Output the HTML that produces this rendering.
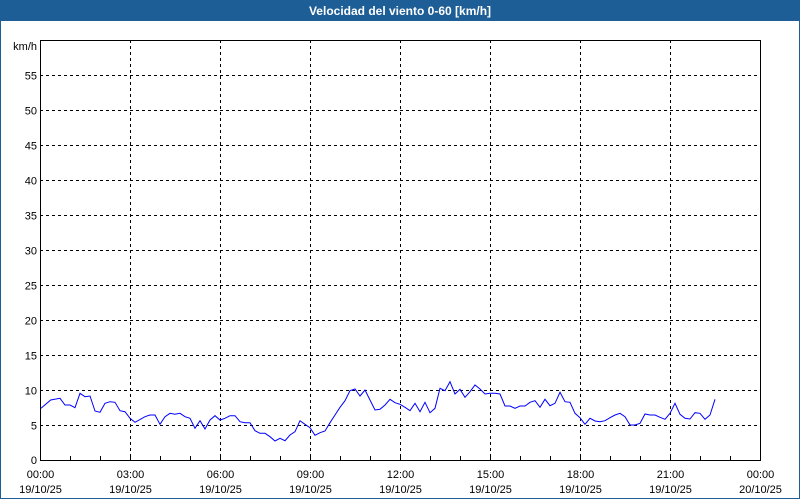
<!DOCTYPE html>
<html><head><style>
body{margin:0;background:#fff;}
svg{display:block;font-family:"Liberation Sans",sans-serif;}
</style></head><body>
<svg id="s" width="800" height="500" viewBox="0 0 800 500" xmlns="http://www.w3.org/2000/svg">
<rect x="0" y="0" width="800" height="500" fill="#fff"/>
<rect x="0.5" y="0.5" width="799" height="498" fill="none" stroke="#1d5e96" stroke-width="1"/>
<rect x="0" y="0" width="800" height="21" fill="#1d5e96"/>
<text x="400" y="15" text-anchor="middle" font-size="12" font-weight="bold" fill="#fff">Velocidad del viento 0-60 [km/h]</text>
<text x="37" y="50" text-anchor="end" font-size="11" fill="#000">km/h</text>
<g id="grid" stroke="#000" stroke-width="1" stroke-dasharray="3,3"></g>
<g id="lab" font-size="11" fill="#000"></g>
<polyline id="d" fill="none" stroke="#0000ff" stroke-width="1"/>
<rect x="40.5" y="40.5" width="720" height="420" fill="none" stroke="#000" stroke-width="1"/>
</svg>
<script>
var ns="http://www.w3.org/2000/svg",g=document.getElementById('grid'),l=document.getElementById('lab');
function el(p,t,a,tx){var e=document.createElementNS(ns,t);for(var k in a)e.setAttribute(k,a[k]);if(tx)e.textContent=tx;p.appendChild(e);}
for(var v=5;v<=55;v+=5){var y=460-v*7+0.5;el(g,'line',{x1:40,y1:y,x2:760,y2:y});el(l,'text',{x:37,y:y+4,'text-anchor':'end'},''+v);}
el(l,'text',{x:37,y:464,'text-anchor':'end'},'0');
var hs=['00:00','03:00','06:00','09:00','12:00','15:00','18:00','21:00','00:00'];
for(var i=0;i<=8;i++){var x=40+i*90+0.5;if(i>0&&i<8)el(g,'line',{x1:x,y1:40,x2:x,y2:460});
el(l,'text',{x:x,y:478,'text-anchor':'middle'},hs[i]);el(l,'text',{x:x,y:493,'text-anchor':'middle'},i<8?'19/10/25':'20/10/25');}
for(var h=1;h<24;h++){var x=40+h*30+0.5;el(l,'line',{x1:x,y1:456,x2:x,y2:460,stroke:'#000'});}
var a=[33,115,62,90,90,85,105,105,120,105,135,113,150,70,165,80,180,78,195,123,210,127,225,100,240,95,255,97,270,122,285,125,300,145,315,157,345,140,360,135,375,135,390,163,405,140,420,130,435,133,450,130,465,140,480,145,495,175,510,152,525,177,540,150,555,137,570,150,585,145,600,137,615,137,630,155,645,158,660,158,675,182,690,190,705,190,720,200,735,213,750,205,765,212,780,195,795,185,810,152,825,163,840,173,855,196,870,188,885,183,900,158,915,135,930,112,945,92,960,62,975,57,990,78,1005,60,1020,90,1035,120,1050,118,1065,105,1080,88,1095,98,1110,103];
var b=[15,112,30,122,45,100,60,125,75,97,90,128,105,115,120,55,135,62,150,35,165,72,180,58,195,82,210,65,225,45,240,57,255,72,270,70,285,70,300,72,315,108,330,108,345,115,360,108,375,108,390,97,405,92,420,112,435,88,450,107,465,100,480,67,495,95,510,97,525,130,540,143,555,163,570,145,585,153,600,155,615,152,630,143,645,135,660,130,675,140,690,165,705,165,720,160,735,132,750,135,765,135,780,142,795,148,810,130,825,100,840,133,855,145,870,147,885,128,900,130,915,148,930,135,945,88];
var p=[];for(var i=0;i<a.length;i+=2)p.push((30+a[i]/3).toFixed(1)+','+(370+a[i+1]/3).toFixed(1));
for(var i=0;i<b.length;i+=2)p.push((400+b[i]/3).toFixed(1)+','+(370+b[i+1]/3).toFixed(1));
document.getElementById('d').setAttribute('points',p.join(' '));
</script>
</body></html>
